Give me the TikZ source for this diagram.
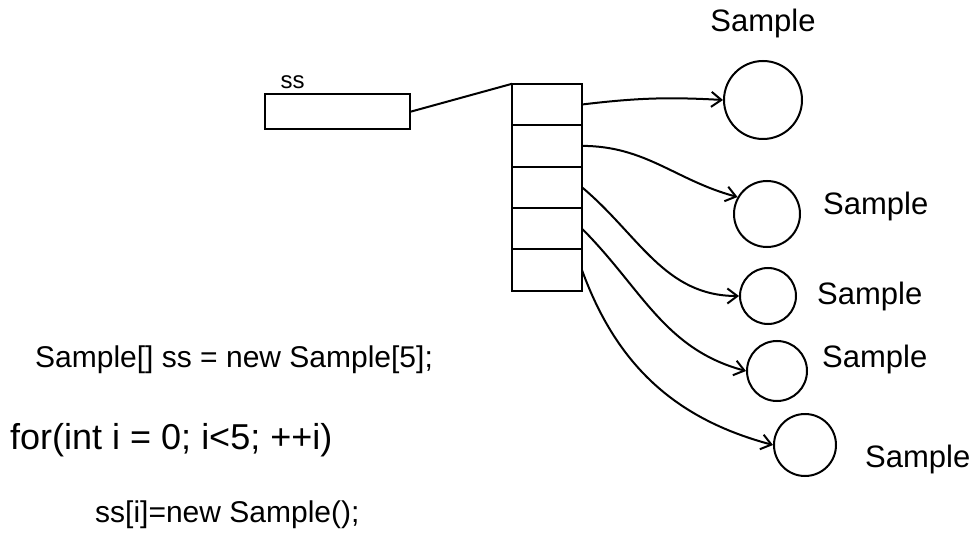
\documentclass[tikz,border=0pt]{standalone}
\usepackage{fontspec}
\setmainfont{Liberation Sans}
\usetikzlibrary{positioning, arrows.meta}

\begin{document}
\begin{tikzpicture}[
  x=1pt, y=-1pt,
  node distance=0pt,
  hand/.style={line width=2pt, draw=black},
  cell/.style={rectangle, hand, minimum width=70pt, minimum height=41.4pt,
    outer sep=0pt, inner sep=0pt},
  refbox/.style={rectangle, hand, minimum width=145pt, minimum height=35pt,
    outer sep=0pt},
  obj/.style={circle, hand, inner sep=0pt},
  arr/.style={-{Straight Barb[length=10pt, width=15pt]}, line width=2pt},
  lbl/.style={font=\fontsize{31}{34}\selectfont, inner sep=0pt},
  code/.style={anchor=west, font=\fontsize{30}{33}\selectfont, inner sep=0pt}
]
  \useasboundingbox (0,0) rectangle (975,548);

  \node[refbox] (ssbox) at (337,112) {};
  \node[lbl, font=\fontsize{24}{26}\selectfont, above right=6pt and 16pt of ssbox.north west] (sslbl) {ss};

  \node[cell] (c1) at (547,104.5) {};
  \node[cell, below=of c1] (c2) {};
  \node[cell, below=of c2] (c3) {};
  \node[cell, below=of c3] (c4) {};
  \node[cell, below=of c4] (c5) {};

  \node[obj, minimum size=78pt] (s1) at (763,100) {};
  \node[obj, minimum size=66pt] (s2) at (767,214) {};
  \node[obj, minimum size=56pt] (s3) at (768,296) {};
  \node[obj, minimum size=60pt] (s4) at (777,371) {};
  \node[obj, minimum size=62pt] (s5) at (805,445) {};

  \node[lbl, above=22pt of s1] (t1) {Sample};
  \node[lbl, right=22pt of s2, yshift=8pt] (t2) {Sample};
  \node[lbl, right=20pt of s3] (t3) {Sample};
  \node[lbl, right=14pt of s4, yshift=12pt] (t4) {Sample};
  \node[lbl, right=28pt of s5, yshift=-14pt] (t5) {Sample};

  \draw[line width=2pt] (ssbox.east) -- (c1.north west);
  \draw[arr] (c1.east) to[bend left=5] (s1.west);
  \draw[arr] (c2.east) to[out=0, in=165] (s2.150);
  \draw[arr] (c3.east) to[out=-40, in=180] (s3.west);
  \draw[arr] (c4.east) to[out=-45, in=165] (s4.west);
  \draw[arr] (c5.east) to[out=-70, in=165] (s5.west);

  \node[code] (line1) at (35,360) {Sample[] ss = new Sample[5];};
  \node[code, font=\fontsize{36}{40}\selectfont] (line2) at (10,440) {for(int i = 0; i<5; ++i)};
  \node[code] (line3) at (95,515) {ss[i]=new Sample();};
\end{tikzpicture}
\end{document}
